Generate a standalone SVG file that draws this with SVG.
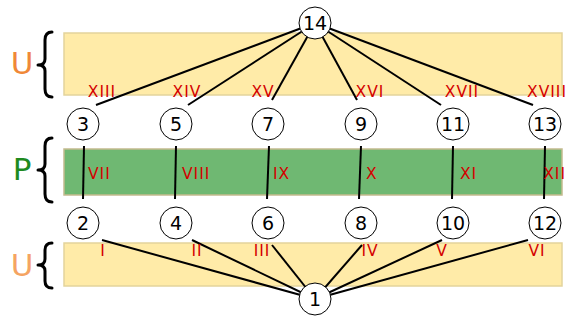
<svg xmlns="http://www.w3.org/2000/svg" width="568" height="320" viewBox="0 0 568 320">
<style>
.band-u{fill:#ffeba8;stroke:#e3d49c;stroke-width:1.5}
.band-p{fill:#6fb872;stroke:#c4bb8e;stroke-width:1.5}
.brace{fill:none;stroke:#000;stroke-width:3;stroke-linecap:round;stroke-linejoin:round}
.edge{stroke:#000;stroke-width:2;fill:none}
.node circle{fill:#fff;stroke:#000;stroke-width:1}
.node text{font-family:"DejaVu Sans",Verdana,sans-serif;font-size:19px;fill:#000;text-anchor:middle}
.lbl{font-family:"DejaVu Sans",Verdana,sans-serif;font-size:15.5px;letter-spacing:1px;fill:#d40000}
.mid{text-anchor:middle}
.side{font-family:"DejaVu Sans",Verdana,sans-serif;font-size:31px}
</style>
<g id="bands">
<rect class="band-u" x="64" y="33" width="498" height="62"/>
<rect class="band-p" x="64" y="149" width="498" height="46"/>
<rect class="band-u" x="64" y="243" width="498" height="43"/>
</g>
<g id="side-labels">
<text class="side" x="22" y="74" text-anchor="middle" fill="#f08838">U</text>
<path class="brace" d="M52,32 Q45,32 45,40 L45,59 Q45,65 38,65 Q45,65 45,71 L45,89 Q45,97 52,97"/>
<text class="side" x="22" y="180" text-anchor="middle" fill="#1f8a1f">P</text>
<path class="brace" d="M52,138 Q45,138 45,146 L45,164 Q45,170 38,170 Q45,170 45,176 L45,194 Q45,202 52,202"/>
<text class="side" x="22" y="276" text-anchor="middle" fill="#f5a462">U</text>
<path class="brace" d="M52,243 Q45,243 45,250 L45,259 Q45,265 38,265 Q45,265 45,271 L45,281 Q45,288 52,288"/>
</g>
<g id="connectors">
<line class="edge" x1="315" y1="23" x2="96" y2="105"/>
<line class="edge" x1="315" y1="23" x2="188" y2="105"/>
<line class="edge" x1="315" y1="23" x2="272" y2="100"/>
<line class="edge" x1="315" y1="23" x2="357" y2="100"/>
<line class="edge" x1="315" y1="23" x2="441" y2="105"/>
<line class="edge" x1="315" y1="23" x2="533" y2="105"/>
<line class="edge" x1="84" y1="146" x2="83" y2="199"/>
<line class="edge" x1="176" y1="146" x2="175" y2="199"/>
<line class="edge" x1="269" y1="146" x2="267" y2="199"/>
<line class="edge" x1="361" y1="146" x2="359" y2="199"/>
<line class="edge" x1="453" y1="146" x2="452" y2="199"/>
<line class="edge" x1="545" y1="146" x2="544" y2="199"/>
<line class="edge" x1="102" y1="240" x2="315" y2="299"/>
<line class="edge" x1="192" y1="240" x2="315" y2="299"/>
<line class="edge" x1="272" y1="245" x2="315" y2="299"/>
<line class="edge" x1="362" y1="245" x2="315" y2="299"/>
<line class="edge" x1="442" y1="240" x2="315" y2="299"/>
<line class="edge" x1="528" y1="240" x2="315" y2="299"/>
</g>
<g id="edge-labels">
<text class="lbl mid" x="102" y="97">XIII</text>
<text class="lbl mid" x="187" y="97">XIV</text>
<text class="lbl mid" x="263" y="97">XV</text>
<text class="lbl mid" x="370" y="97">XVI</text>
<text class="lbl mid" x="462" y="97">XVII</text>
<text class="lbl" x="567" y="97" text-anchor="end" letter-spacing="0.5">XVIII</text>
<text class="lbl" x="88" y="179">VII</text>
<text class="lbl" x="182" y="179">VIII</text>
<text class="lbl" x="273" y="179">IX</text>
<text class="lbl" x="366" y="179">X</text>
<text class="lbl" x="460" y="179">XI</text>
<text class="lbl" x="566" y="179" text-anchor="end" letter-spacing="0">XII</text>
<text class="lbl mid" x="103" y="256">I</text>
<text class="lbl mid" x="197" y="256">II</text>
<text class="lbl mid" x="262" y="256">III</text>
<text class="lbl mid" x="370" y="256">IV</text>
<text class="lbl mid" x="442" y="256">V</text>
<text class="lbl mid" x="537" y="256">VI</text>
</g>
<g id="n14" class="node"><circle cx="315" cy="23" r="16"/><text x="315" y="30">14</text></g>
<g id="n3" class="node"><circle cx="83" cy="124" r="16"/><text x="83" y="131">3</text></g>
<g id="n5" class="node"><circle cx="176" cy="124" r="16"/><text x="176" y="131">5</text></g>
<g id="n7" class="node"><circle cx="268" cy="124" r="16"/><text x="268" y="131">7</text></g>
<g id="n9" class="node"><circle cx="361" cy="124" r="16"/><text x="361" y="131">9</text></g>
<g id="n11" class="node"><circle cx="453" cy="124" r="16"/><text x="453" y="131">11</text></g>
<g id="n13" class="node"><circle cx="545" cy="124" r="16"/><text x="545" y="131">13</text></g>
<g id="n2" class="node"><circle cx="83" cy="223" r="16"/><text x="83" y="230">2</text></g>
<g id="n4" class="node"><circle cx="176" cy="223" r="16"/><text x="176" y="230">4</text></g>
<g id="n6" class="node"><circle cx="268" cy="223" r="16"/><text x="268" y="230">6</text></g>
<g id="n8" class="node"><circle cx="361" cy="223" r="16"/><text x="361" y="230">8</text></g>
<g id="n10" class="node"><circle cx="453" cy="223" r="16"/><text x="453" y="230">10</text></g>
<g id="n12" class="node"><circle cx="545" cy="223" r="16"/><text x="545" y="230">12</text></g>
<g id="n1" class="node"><circle cx="315" cy="299" r="16"/><text x="315" y="306">1</text></g>
</svg>
